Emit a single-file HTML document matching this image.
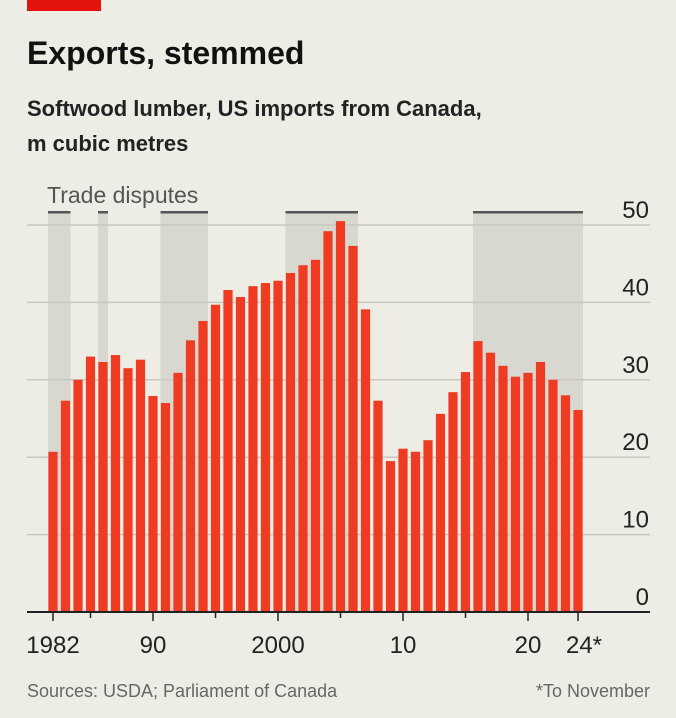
<!DOCTYPE html>
<html><head><meta charset="utf-8"><style>
body{margin:0;background:#edece5;}
svg{display:block;font-family:"Liberation Sans",sans-serif;}
</style></head><body>
<svg width="676" height="718">
<rect x="0" y="0" width="676" height="718" fill="#edece5"/>
<rect x="27" y="0" width="74" height="11" fill="#e3120b"/>
<text x="27" y="64" font-size="32" font-weight="bold" fill="#111">Exports, stemmed</text>
<text x="27" y="116" font-size="22" font-weight="bold" fill="#222">Softwood lumber, US imports from Canada,</text>
<text x="27" y="151" font-size="22" font-weight="bold" fill="#222">m cubic metres</text>
<g id="shades"></g>
<g id="grid"></g>
<g id="bars"></g>
<g id="axis"></g>
<text x="47" y="203" font-size="23" fill="#555">Trade disputes</text>
<text x="27" y="697" font-size="18" fill="#666">Sources: USDA; Parliament of Canada</text>
<text x="650" y="697" font-size="18" fill="#666" text-anchor="end">*To November</text>
</svg>
<script>
const years=[1982,1983,1984,1985,1986,1987,1988,1989,1990,1991,1992,1993,1994,1995,1996,1997,1998,1999,2000,2001,2002,2003,2004,2005,2006,2007,2008,2009,2010,2011,2012,2013,2014,2015,2016,2017,2018,2019,2020,2021,2022,2023,2024];
const values=[20.7,27.3,30,33,32.3,33.2,31.5,32.6,27.9,27,30.9,35.1,37.6,39.7,41.6,40.7,42.1,42.5,42.8,43.8,44.8,45.5,49.2,50.5,47.3,39.1,27.3,19.5,21.1,20.7,22.2,25.6,28.4,31,35,33.5,31.8,30.4,30.9,32.3,30,28,26.1];
const yTicks=[0,10,20,30,40,50];
const xTickYears=[1982,1985,1990,1995,2000,2005,2010,2015,2020,2024];
const xTickLabels=["1982","","90","","2000","","10","","20","24*"];
const disputeStart=[1982,1986,1991,2001,2016];
const disputeEnd=[1983,1986,1994,2006,2024];
const NS="http://www.w3.org/2000/svg";
const x=y=>53+(y-1982)*12.5;
const yS=v=>612-v*7.74;
function mk(tag,attrs,parent){const e=document.createElementNS(NS,tag);for(const k in attrs)e.setAttribute(k,attrs[k]);document.getElementById(parent).appendChild(e);return e;}
disputeStart.forEach((s,i)=>{
 const x0=x(s)-5,x1=x(disputeEnd[i])+5;
 const r=mk('rect',{x:x0,y:212,width:x1-x0,height:400,fill:'#d8d7d0'},'shades');
 
 
 const l=mk('rect',{x:x0,y:211,width:x1-x0,height:2.5,fill:'#555'},'shades');
 
 
});
yTicks.forEach(t=>{
 if(t>0){const g=mk('line',{x1:27,x2:650,y1:yS(t),y2:yS(t),stroke:'#c8c7c0','stroke-width':1.5},'grid');
 
 }
 const tx=mk('text',{x:649,y:yS(t)-7,'font-size':24,'text-anchor':'end',fill:'#222'},'grid');
 tx.textContent=t;
 
 
});
years.forEach((yr,i)=>{
 const b=mk('rect',{x:x(yr)-4.6,y:yS(values[i]),width:9.2,height:values[i]*7.74,fill:'#ef3b22'},'bars');
 
 
});
const base=mk('line',{x1:27,x2:650,y1:612,y2:612,stroke:'#222','stroke-width':2},'axis');


xTickYears.forEach((yr,i)=>{
 const len=xTickLabels[i]?9:6;
 const t=mk('line',{x1:x(yr),x2:x(yr),y1:612,y2:612+len,stroke:'#222','stroke-width':1.5},'axis');
 
 
 if(xTickLabels[i]){
  const tx=mk('text',{x:x(yr)+(i==9?6:0),y:653,'font-size':24,'text-anchor':'middle',fill:'#222'},'axis');
  tx.textContent=xTickLabels[i];
  
  
 }
});
</script>
</body></html>
